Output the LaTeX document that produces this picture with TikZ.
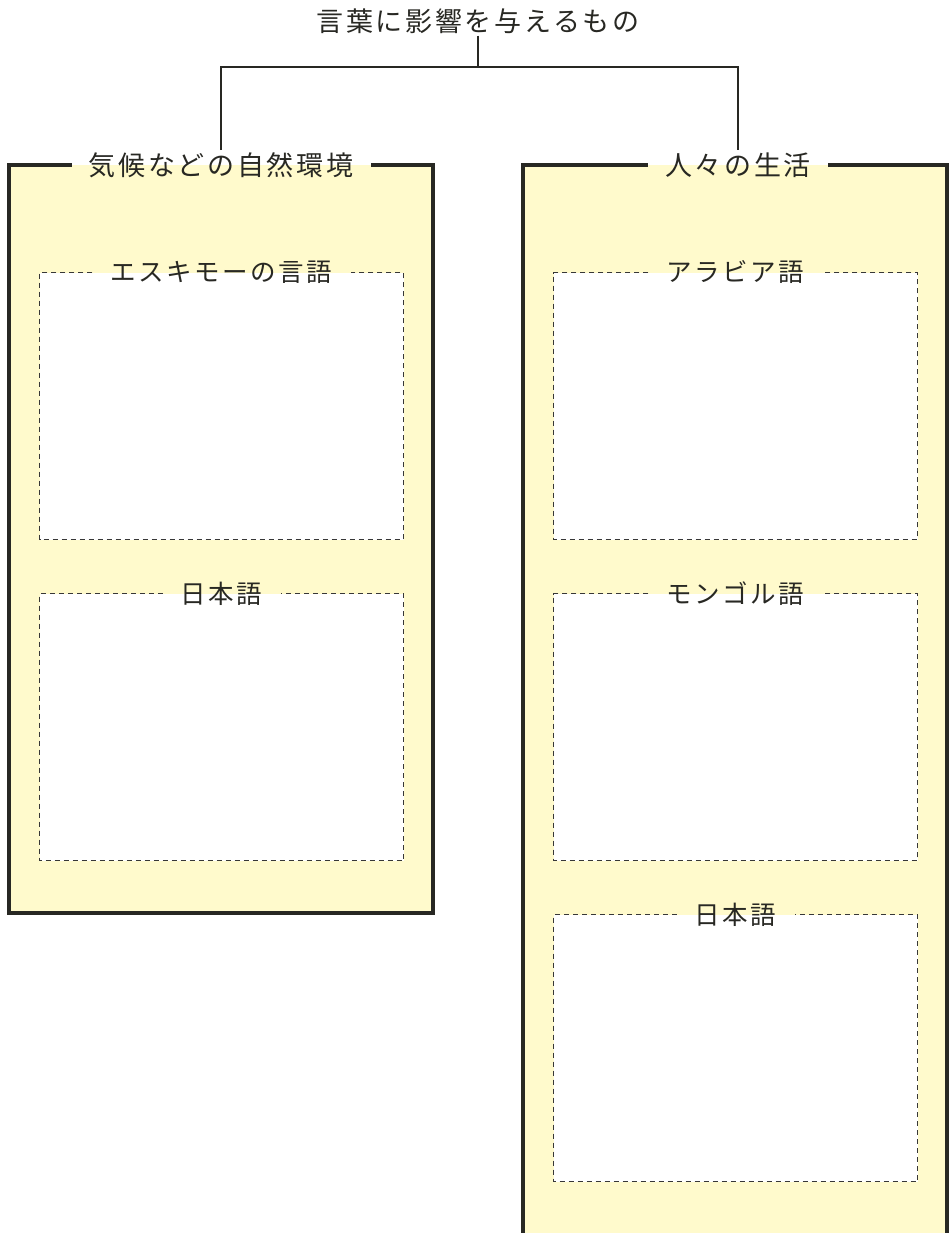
\documentclass[tikz,border=0pt]{standalone}
\usepackage{fontspec}
\newfontfamily\jpfont[LetterSpace=10]{Noto Sans CJK JP}
\usetikzlibrary{positioning}
\definecolor{cream}{RGB}{255,250,204}
\definecolor{ink}{RGB}{40,40,35}
\definecolor{dashink}{RGB}{55,55,55}

\begin{document}
\begin{tikzpicture}[
        x=1pt, y=-1pt,
        panel/.style={rectangle, fill=cream, draw=none, minimum width=424pt, outer sep=0pt, inner sep=0pt},
        slot/.style={rectangle, fill=white, draw=none, minimum width=364pt, minimum height=267pt, outer sep=0pt, inner sep=0pt},
        heading/.style={font=\jpfont\fontsize{27}{32}\selectfont, text=ink, inner xsep=17pt, inner ysep=2pt},
        subheading/.style={font=\jpfont\fontsize{25.5}{30}\selectfont, text=ink, inner xsep=18pt, inner ysep=2pt},
        frame/.style={draw=ink, line width=3.2pt},
        dashframe/.style={draw=dashink, line width=1.8pt, dash pattern=on 5pt off 4pt},
        link/.style={draw=ink, line width=1.1pt}
    ]
        \useasboundingbox (0,0) rectangle (949,1233);
        \clip (0,0) rectangle (949,1233);

        % panels and slots
        \node[panel, minimum height=748pt] (envBox) at (221,539) {};
        \node[panel, minimum height=1094pt] (lifeBox) at (735,712) {};

        \node[slot] (eskimo) at (221.5,406) {};
        \node[slot, below=54pt of eskimo] (japanA) {};
        \node[slot] (arabic) at (735.5,406) {};
        \node[slot, below=54pt of arabic] (mongol) {};
        \node[slot, below=54pt of mongol] (japanB) {};

        % headings
        \node[heading] (top) at (478,21) {言葉に影響を与えるもの};
        \node[heading] (envT) at (221,165) {気候などの自然環境};
        \node[heading] (lifeT) at (738,165) {人々の生活};

        \node[subheading] (eskimoT) at (eskimo.north) {エスキモーの言語};
        \node[subheading] (japanAT) at (japanA.north) {日本語};
        \node[subheading] (arabicT) at (arabic.north) {アラビア語};
        \node[subheading] (mongolT) at (mongol.north) {モンゴル語};
        \node[subheading] (japanBT) at (japanB.north) {日本語};

        % outer frames, open round the headings
        \draw[frame] (envT.west) -- (envBox.north west) -- (envBox.south west) -- (envBox.south east) -- (envBox.north east) -- (envT.east);
        \draw[frame] (lifeT.west) -- (lifeBox.north west) -- (lifeBox.south west) -- (lifeBox.south east) -- (lifeBox.north east) -- (lifeT.east);

        % dashed frames
        \draw[dashframe] (eskimoT.west) -- (eskimo.north west) -- (eskimo.south west) -- (eskimo.south east) -- (eskimo.north east) -- (eskimoT.east);
        \draw[dashframe] (japanAT.west) -- (japanA.north west) -- (japanA.south west) -- (japanA.south east) -- (japanA.north east) -- (japanAT.east);
        \draw[dashframe] (arabicT.west) -- (arabic.north west) -- (arabic.south west) -- (arabic.south east) -- (arabic.north east) -- (arabicT.east);
        \draw[dashframe] (mongolT.west) -- (mongol.north west) -- (mongol.south west) -- (mongol.south east) -- (mongol.north east) -- (mongolT.east);
        \draw[dashframe] (japanBT.west) -- (japanB.north west) -- (japanB.south west) -- (japanB.south east) -- (japanB.north east) -- (japanBT.east);

        % tree
        \coordinate (fork) at (478,67);
        \draw[link] (top) -- (fork);
        \draw[link] (envT.north) |- (fork) -| (lifeT.north);
    \end{tikzpicture}
\end{document}
